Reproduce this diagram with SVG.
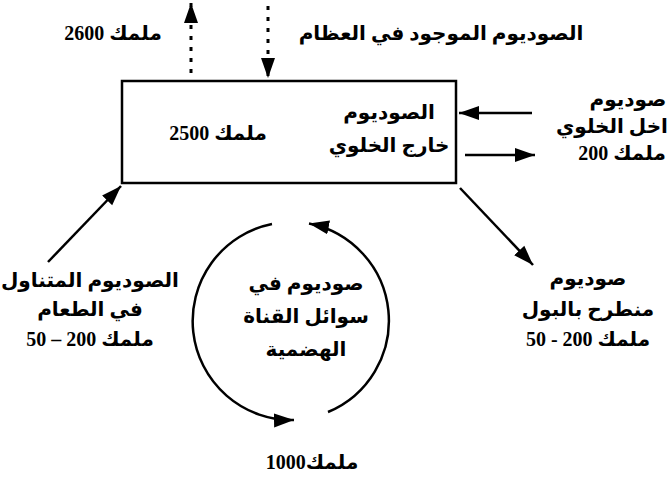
<svg xmlns="http://www.w3.org/2000/svg" width="669" height="482" viewBox="0 0 669 482">
<style>
.t{font-family:"Liberation Serif","DejaVu Sans",serif;font-weight:bold;font-size:20px;fill:#000;text-anchor:middle;direction:rtl}
.ln{stroke:#000;stroke-width:2.5;fill:none}
.dot{stroke:#000;stroke-width:3;fill:none;stroke-dasharray:4 7}
</style>
<defs>
<marker id="ah" markerUnits="userSpaceOnUse" markerWidth="22" markerHeight="16" refX="20" refY="8" orient="auto">
<path d="M0,1 L20,8 L0,15 z" fill="#000"/>
</marker>
</defs>
<rect width="669" height="482" fill="#fff"/>
<g id="connectors">
<line class="dot" x1="191" y1="73" x2="191" y2="3" marker-end="url(#ah)"/>
<line class="dot" x1="268" y1="6" x2="268" y2="78" marker-end="url(#ah)"/>
<line class="ln" x1="532" y1="113" x2="459" y2="113" marker-end="url(#ah)"/>
<line class="ln" x1="465" y1="155" x2="535" y2="155" marker-end="url(#ah)"/>
<line class="ln" x1="48" y1="262" x2="121" y2="186" marker-end="url(#ah)"/>
<line class="ln" x1="460" y1="188" x2="533" y2="265" marker-end="url(#ah)"/>
<path class="ln" d="M 272 224 A 99 99 0 0 0 294 420" marker-end="url(#ah)"/>
<path class="ln" d="M 328 412 A 99 99 0 0 0 309 223.5" marker-end="url(#ah)"/>
</g>
<g id="bone">
<text class="t" x="113" y="40">ملمك 2600</text>
<text class="t" x="441" y="40">الصوديوم الموجود في العظام</text>
</g>
<g id="extracellular">
<rect x="122" y="81" width="334" height="102" class="ln"/>
<text class="t" x="218" y="140">ملمك 2500</text>
<text class="t" x="389" y="119">الصوديوم</text>
<text class="t" x="389" y="152">خارج الخلوي</text>
</g>
<g id="intracellular">
<text class="t" x="628" y="106">صوديوم</text>
<text class="t" x="612" y="133">اخل الخلوي</text>
<text class="t" x="622" y="160">ملمك 200</text>
</g>
<g id="intake">
<text class="t" x="90" y="287">الصوديوم المتناول</text>
<text class="t" x="90" y="316">في الطعام</text>
<text class="t" x="90" y="346">ملمك 200 – 50</text>
</g>
<g id="urine">
<text class="t" x="588" y="285">صوديوم</text>
<text class="t" x="588" y="316">منطرح بالبول</text>
<text class="t" x="588" y="346">ملمك 200 - 50</text>
</g>
<g id="digestive">
<text class="t" x="306" y="290">صوديوم في</text>
<text class="t" x="306" y="323">سوائل القناة</text>
<text class="t" x="306" y="356">الهضمية</text>
</g>
<g id="total">
<text class="t" x="312" y="469">ملمك1000</text>
</g>
</svg>
